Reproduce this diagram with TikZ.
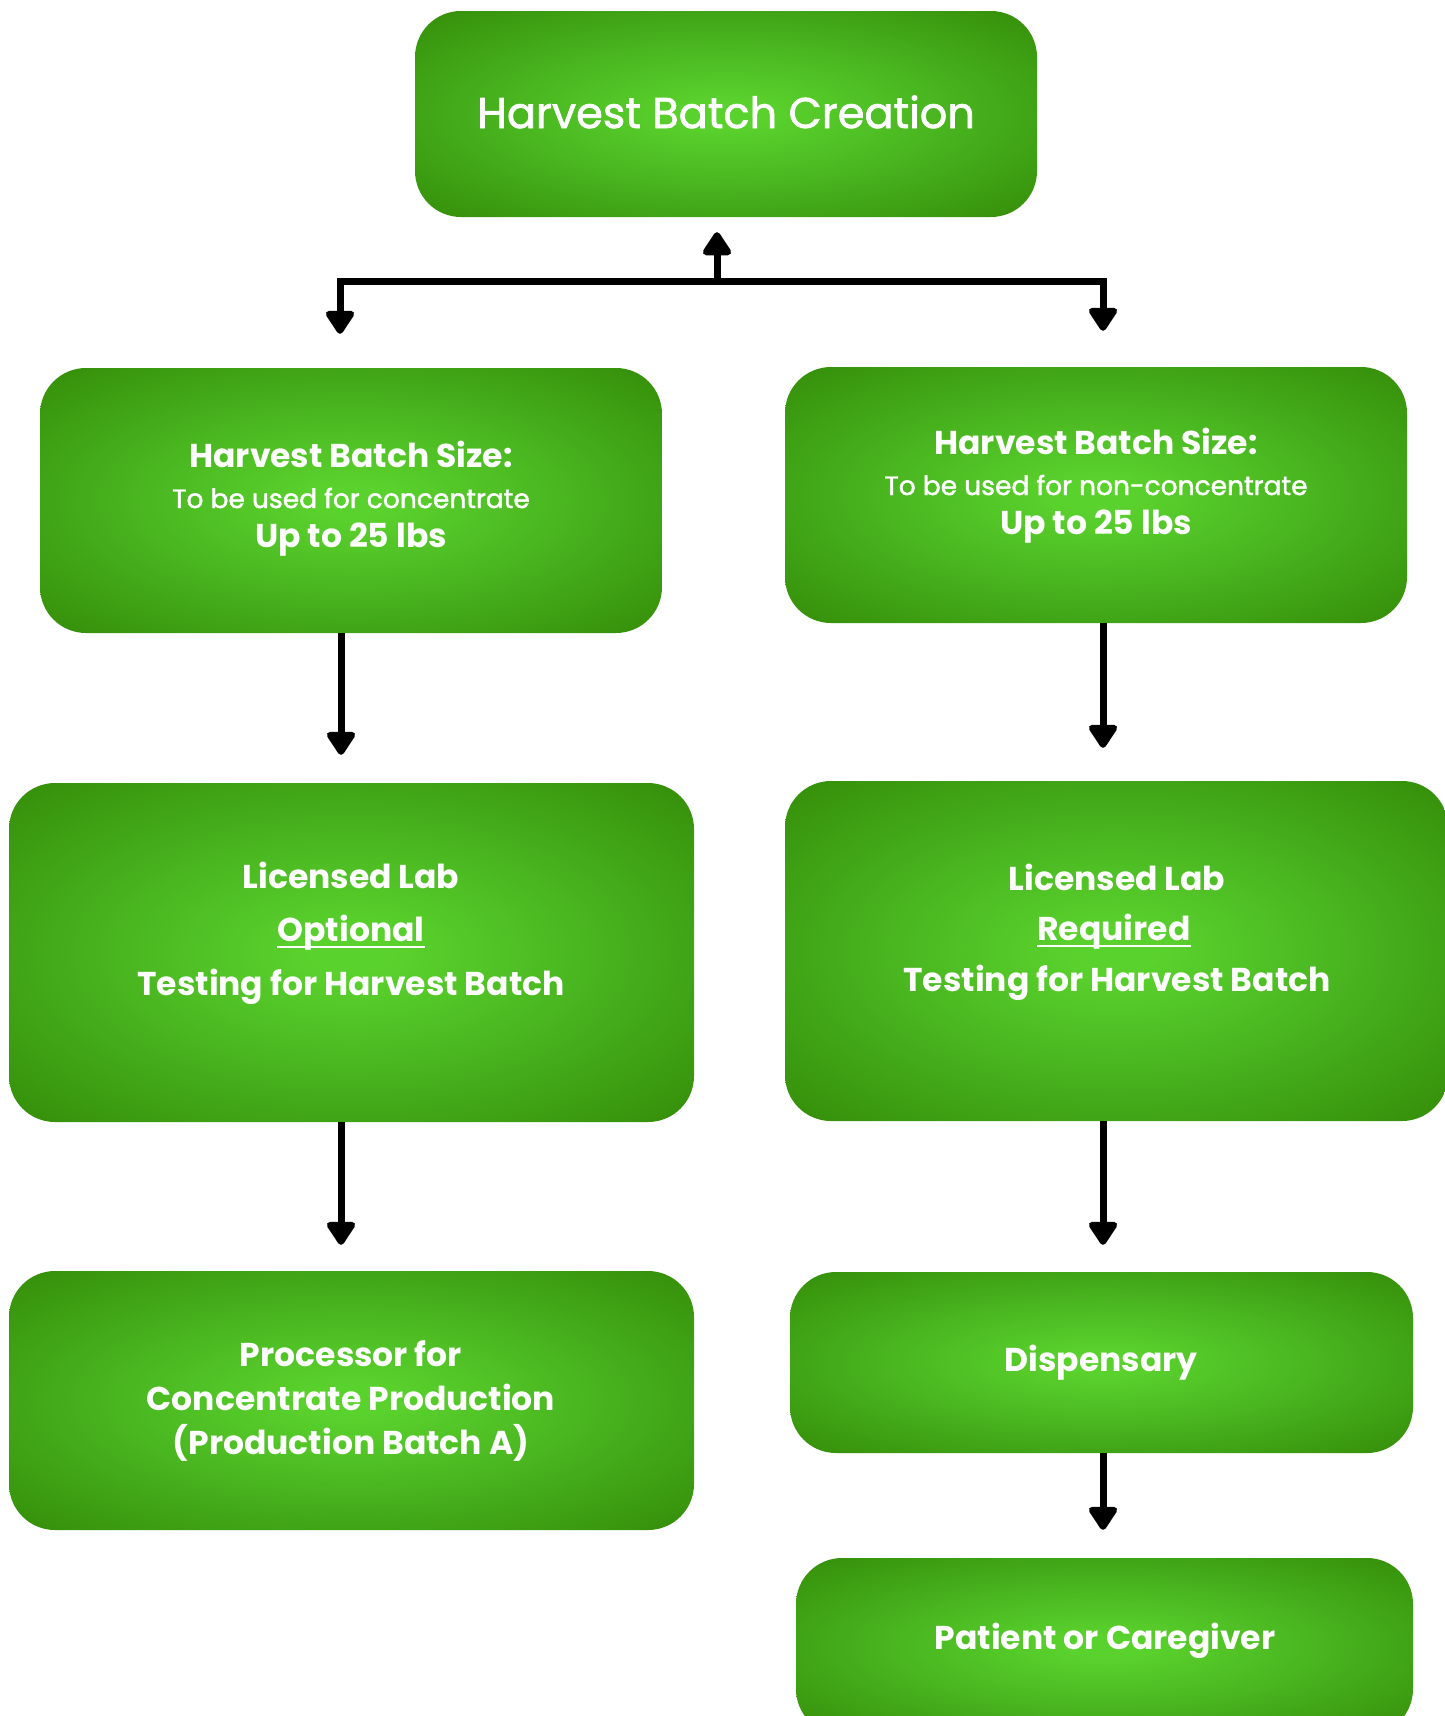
\documentclass[tikz,border=0pt]{standalone}
\usepackage{fontspec}
\setmainfont{Poppins}
\newfontfamily\medfont{Poppins}[FakeBold=1.6]
\usetikzlibrary{arrows.meta}
\definecolor{gin}{RGB}{90,210,45}
\definecolor{gin2}{RGB}{78,190,36}
\definecolor{gmid}{RGB}{64,164,22}
\definecolor{gout}{RGB}{52,140,7}
\pgfdeclareradialshading{glow}{\pgfpoint{0bp}{0bp}}{color(0bp)=(gin); color(3bp)=(gin); color(13bp)=(gin2); color(25bp)=(gmid); color(36bp)=(gout); color(50bp)=(gout)}
\begin{document}
\begin{tikzpicture}[x=1pt,y=-1pt,
  box/.style={shading=glow, shade, draw=none, rounded corners=46pt, inner sep=0pt},
  lbl/.style={text=white, anchor=base, inner sep=0pt},
  bigt/.style={lbl, font=\bfseries\fontsize{33}{38}\selectfont},
  smallt/.style={lbl, font=\medfont\fontsize{26.5}{30}\selectfont},
  titlet/.style={lbl, font=\medfont\fontsize{43}{50}\selectfont},
  uline/.style={draw=white, line width=2.8pt},
  conn/.style={line width=7pt, black},
  arr/.style={conn, -{Triangle[width=32pt,length=26pt,round]}}]
\useasboundingbox (0,0) rectangle (1445,1716);
\clip (0,0) rectangle (1445,1716);
% boxes
\node[box, minimum width=622pt, minimum height=206pt] (top) at (726,114) {};
\node[box, minimum width=622pt, minimum height=265pt] (L2) at (351,500.5) {};
\node[box, minimum width=622pt, minimum height=256pt] (R2) at (1096,495) {};
\node[box, minimum width=685pt, minimum height=339pt] (L3) at (351.5,952.5) {};
\node[box, minimum width=663pt, minimum height=340pt] (R3) at (1116.5,951) {};
\node[box, minimum width=685pt, minimum height=259pt] (L4) at (351.5,1400.5) {};
\node[box, minimum width=623pt, minimum height=181pt] (R4) at (1101.5,1362.5) {};
\node[box, minimum width=617pt, minimum height=177pt] (R5) at (1104.5,1646.5) {};
% texts
\node[titlet] (t0) at (726,128) {Harvest Batch Creation};
\node[bigt] (tl2a) at (351,467) {Harvest Batch Size:};
\node[smallt] (tl2b) at (351,508) {To be used for concentrate};
\node[bigt] (tl2c) at (351,547) {Up to 25 lbs};
\node[bigt] (tr2a) at (1096,454) {Harvest Batch Size:};
\node[smallt] (tr2b) at (1096,495) {To be used for non-concentrate};
\node[bigt] (tr2c) at (1096,534) {Up to 25 lbs};
\node[bigt] (tl3a) at (351,888) {Licensed Lab};
\node[bigt] (tl3b) at (351,941) {Optional};
\node[bigt] (tl3c) at (351,995) {Testing for Harvest Batch};
\node[bigt] (tr3a) at (1117,890) {Licensed Lab};
\node[bigt] (tr3b) at (1114,940) {Required};
\node[bigt] (tr3c) at (1117,991) {Testing for Harvest Batch};
\node[bigt] (tl4a) at (351,1366) {Processor for};
\node[bigt] (tl4b) at (351,1410) {Concentrate Production};
\node[bigt] (tl4c) at (351,1454) {(Production Batch A)};
\node[bigt] (tr4) at (1101,1371) {Dispensary};
\node[bigt] (tr5) at (1105,1649) {Patient or Caregiver};
% underlines
\draw[uline] ([yshift=-6pt]tl3b.base west) -- ([yshift=-6pt]tl3b.base east);
\draw[uline] ([yshift=-6pt]tr3b.base west) -- ([yshift=-6pt]tr3b.base east);
% connectors
\coordinate (j) at (717,281);
\coordinate (jl) at (340,281);
\coordinate (jr) at (1103,281);
\coordinate (xl) at (341,0);
\coordinate (xr) at (1103,0);
\draw[arr, shorten >=15pt] (j) -- (top.south -| j);
\draw[arr, shorten >=34pt] (jr) -- (jl) -- (jl |- L2.north);
\draw[arr, shorten >=36pt] (jl) -- (jr) -- (jr |- R2.north);
\draw[arr, shorten >=28pt] (L2.south -| xl) -- (L3.north -| xl);
\draw[arr, shorten >=33pt] (R2.south -| xr) -- (R3.north -| xr);
\draw[arr, shorten >=26pt] (L3.south -| xl) -- (L4.north -| xl);
\draw[arr, shorten >=27pt] (R3.south -| xr) -- (R4.north -| xr);
\draw[arr, shorten >=28pt] (R4.south -| xr) -- (R5.north -| xr);
\end{tikzpicture}
\end{document}
